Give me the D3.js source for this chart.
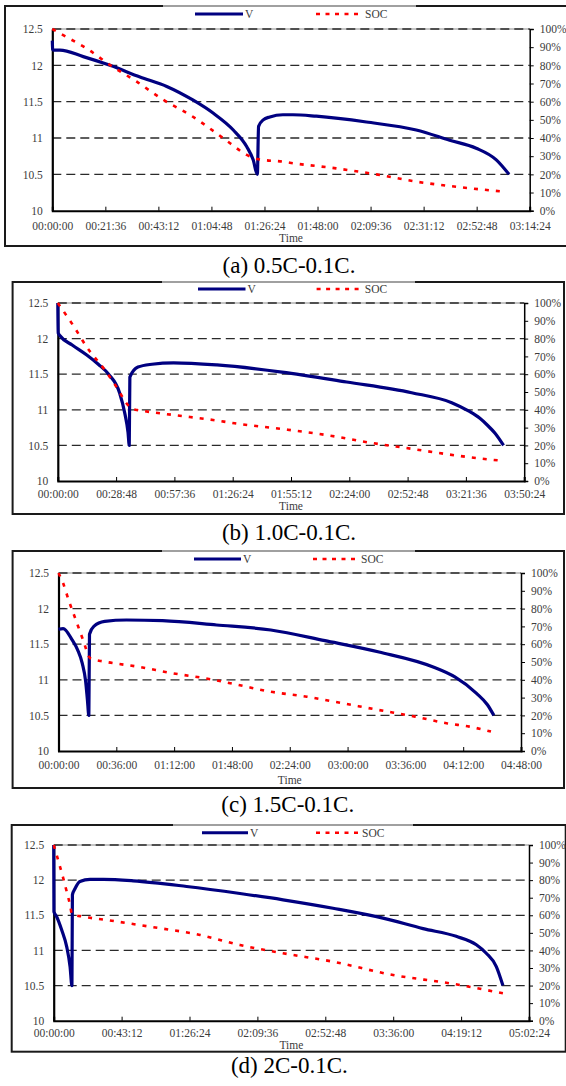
<!DOCTYPE html>
<html>
<head>
<meta charset="utf-8">
<script src="https://cdn.jsdelivr.net/npm/d3@7"></script>
<style>
  body { margin: 0; background: #fff; }
  svg { display: block; font-family: "Liberation Serif", serif; }
</style>
</head>
<body>
<svg id="chart" width="566" height="1086"></svg>
<script>
/* data, time in minutes */
var voltTicks = [10, 10.5, 11, 11.5, 12, 12.5];
var socTicks = [0, 10, 20, 30, 40, 50, 60, 70, 80, 90, 100];

// (a) 0.5C-0.1C
var ticksA = ["00:00:00","00:21:36","00:43:12","01:04:48","01:26:24","01:48:00","02:09:36","02:31:12","02:52:48","03:14:24"];
var timeA = [0, 0.15, 0.4, 3.1, 12.6, 23.5, 35.7, 46.6, 57.4, 65.6, 73.7, 79.2, 81.8, 83.5, 84.0, 85.9, 88.6, 93.9, 98.0, 107.5, 127.9, 148.2, 161.8, 172.6, 180.8, 186.0];
var voltA = [12.34, 12.22, 12.21, 12.21, 12.12, 12.0, 11.84, 11.71, 11.52, 11.34, 11.11, 10.88, 10.70, 10.5, 11.16, 11.25, 11.29, 11.32, 11.32, 11.30, 11.22, 11.11, 10.97, 10.86, 10.70, 10.5];
var timeSocA = [0, 3.1, 14.3, 23.5, 34.4, 45.2, 56.1, 66.9, 72.4, 79.2, 83.5, 85.9, 93.9, 96.7, 115.6, 131.9, 148.2, 164.5, 183.5];
var socA = [100, 97.6, 89, 80.2, 71, 61, 52.7, 42.6, 37.1, 30.7, 28.4, 27.9, 27, 26.4, 23.3, 20, 16, 13.2, 10.5];

// (b) 1.0C-0.1C
var ticksB = ["00:00:00","00:28:48","00:57:36","01:26:24","01:55:12","02:24:00","02:52:48","03:21:36","03:50:24"];
var timeB = [0, 0.2, 1.1, 7.1, 14.3, 20, 25.1, 30.5, 33.1, 34.7, 35.3, 35.6, 39.6, 46.5, 57.2, 78.6, 110.7, 142.7, 174.8, 194.6, 203.1, 208.5, 212, 216, 220.2];
var voltB = [12.5, 12.08, 12.04, 11.91, 11.77, 11.64, 11.50, 11.24, 10.95, 10.68, 10.5, 11.46, 11.60, 11.64, 11.66, 11.63, 11.53, 11.39, 11.24, 11.10, 10.98, 10.88, 10.79, 10.67, 10.5];
var timeSocB = [0, 8, 14.2, 23.2, 29.4, 33.9, 36.5, 39.2, 57, 76.7, 87.4, 112.3, 135.5, 153.3, 176.5, 192.6, 212.2, 219.3];
var socB = [100, 86.7, 75.4, 62.4, 52.1, 43.7, 40.5, 39.9, 37.1, 34.3, 32.4, 29, 25.3, 21.7, 17.8, 15, 12.2, 11.4];

// (c) 1.5C-0.1C
var ticksC = ["00:00:00","00:36:00","01:12:00","01:48:00","02:24:00","03:00:00","03:36:00","04:12:00","04:48:00"];
var timeC = [0, 2.9, 8.5, 11.9, 14.8, 16.9, 18.0, 18.9, 19.3, 22, 28.8, 42.3, 64.8, 98.4, 132.2, 165.9, 199.6, 233.3, 246.8, 260.3, 267.1, 271.1];
var voltC = [11.71, 11.72, 11.56, 11.42, 11.23, 10.98, 10.72, 10.5, 11.64, 11.75, 11.82, 11.84, 11.83, 11.77, 11.70, 11.55, 11.39, 11.18, 11.04, 10.81, 10.65, 10.5];
var timeSocC = [0, 2.9, 6.3, 10.8, 15.3, 19.8, 28.8, 49.1, 71.6, 91.8, 112, 132.2, 154.7, 177.1, 199.6, 222.1, 242.3, 255.8, 269.3];
var socC = [100, 94.2, 84.8, 73.6, 62.4, 52.1, 50.2, 47.4, 43.6, 40.8, 37.1, 33.3, 30.5, 26.8, 23, 19.3, 15.5, 13.7, 10.9];

// (d) 2C-0.1C
var ticksD = ["00:00:00","00:43:12","01:26:24","02:09:36","02:52:48","03:36:00","04:19:12","05:02:24"];
var timeD = [0, 0.15, 1.9, 5.1, 8.3, 10.4, 11.6, 11.9, 13.6, 16.7, 23.1, 31.6, 50.6, 84.6, 118.5, 145.9, 177.7, 209.5, 235, 256.1, 268.9, 275.2, 281.6, 285.8];
var voltD = [12.5, 11.55, 11.48, 11.29, 11.05, 10.77, 10.5, 11.79, 11.88, 11.98, 12.01, 12.01, 11.99, 11.91, 11.81, 11.72, 11.6, 11.46, 11.31, 11.2, 11.08, 10.96, 10.77, 10.5];
var timeSocD = [0, 1.9, 4.0, 6.1, 8.3, 10.4, 11.6, 18.8, 33.7, 61.3, 93.1, 118.5, 145.9, 177.7, 215.9, 251.9, 285.8];
var socD = [100, 94.3, 87.7, 81, 73.4, 65.9, 60.7, 59.2, 57.3, 53.5, 48.8, 43.1, 38.4, 33.6, 26, 21.3, 15.6];

/* layout of the four panels */
var panels = [
  {ticks: ticksA, t: timeA, v: voltA, ts: timeSocA, s: socA, caption: "(a) 0.5C-0.1C.",
   box: [5, 6, 575, 246], plot: [52.3, 29, 529.7, 210.7], leg: 14, legV: [195, 243], legS: [316, 363],
   tickY: 230, timeY: 242, capY: 272.5, gray: [163, 416]},
  {ticks: ticksB, t: timeB, v: voltB, ts: timeSocB, s: socB, caption: "(b) 1.0C-0.1C.",
   box: [12.6, 282, 564, 514], plot: [57.8, 303, 524.2, 481], leg: 289, legV: [198, 245.5], legS: [316.6, 362.8],
   tickY: 497.5, timeY: 510, capY: 540, gray: [162, 415]},
  {ticks: ticksC, t: timeC, v: voltC, ts: timeSocC, s: socC, caption: "(c) 1.5C-0.1C.",
   box: [12.6, 551, 564, 788], plot: [58.5, 573, 521, 751], leg: 559, legV: [194, 241], legS: [313, 359],
   tickY: 769, timeY: 784, capY: 811.5, gray: [162, 415]},
  {ticks: ticksD, t: timeD, v: voltD, ts: timeSocD, s: socD, caption: "(d) 2C-0.1C.",
   box: [11.7, 825, 565.7, 1051.7], plot: [53.7, 845, 529, 1020.7], leg: 832.7, legV: [202, 248], legS: [316, 360],
   tickY: 1037, timeY: 1049, capY: 1073, gray: [173, 413]}
];

var navy = "#000080";
var red = "#ff0000";
var textCol = "#3c3c3c";

function hms(s){
  var p = s.split(":").map(Number);
  return p[0] * 60 + p[1] + p[2] / 60;
}

var svg = d3.select("#chart");

function drawPanel(cfg){
  var g = svg.append("g");
  var l = cfg.plot[0], t = cfg.plot[1], r = cfg.plot[2], b = cfg.plot[3];
  var tickMins = cfg.ticks.map(hms);

  var x = d3.scaleLinear().domain([0, d3.max(tickMins)]).range([l, r]);
  var yV = d3.scaleLinear().domain([10, 12.5]).range([b, t]);
  var yS = d3.scaleLinear().domain([0, 100]).range([b, t]);

  // outer frame
  g.append("rect")
    .attr("x", cfg.box[0]).attr("y", cfg.box[1])
    .attr("width", cfg.box[2] - cfg.box[0]).attr("height", cfg.box[3] - cfg.box[1])
    .attr("fill", "none").attr("stroke", "#1a1a1a").attr("stroke-width", 2);
  g.append("line")
    .attr("x1", cfg.gray[0]).attr("x2", cfg.gray[1])
    .attr("y1", cfg.box[1]).attr("y2", cfg.box[1])
    .attr("stroke", "#a0a0a0").attr("stroke-width", 2);

  // plot top edge + dashed grid
  g.append("line")
    .attr("x1", l).attr("x2", r).attr("y1", t).attr("y2", t)
    .attr("stroke", "#8a8a8a").attr("stroke-width", 1);
  g.selectAll(".grid")
    .data(voltTicks.filter(d => d > 10))
    .join("line")
    .attr("x1", l).attr("x2", r)
    .attr("y1", d => yV(d)).attr("y2", d => yV(d))
    .attr("stroke", "#2a2a2a").attr("stroke-width", 1.3)
    .attr("stroke-dasharray", "9,5");

  // axes
  var ax = g.append("g").attr("transform", `translate(0,${b})`)
    .call(d3.axisBottom(x).tickValues(tickMins).tickSize(-4).tickFormat((d, i) => cfg.ticks[i]));
  ax.select(".domain").attr("stroke", "#000").attr("stroke-width", 2);
  ax.selectAll(".tick line").attr("stroke", "#000").attr("stroke-width", 1);
  ax.selectAll("text").attr("dy", null).attr("y", cfg.tickY - b)
    .style("font-size", "11.5px").style("font-family", "Liberation Serif").attr("fill", textCol);

  var ay = g.append("g").attr("transform", `translate(${l},0)`)
    .call(d3.axisLeft(yV).tickValues(voltTicks).tickSize(0).tickPadding(9.5).tickFormat(d3.format("")));
  ay.select(".domain").attr("stroke", "#000").attr("stroke-width", 2.2);
  ay.selectAll("text").style("font-size", "11.5px").style("font-family", "Liberation Serif").attr("fill", textCol);

  var as = g.append("g").attr("transform", `translate(${r},0)`)
    .call(d3.axisRight(yS).tickValues(socTicks).tickSize(4).tickPadding(6).tickFormat(d => d + "%"));
  as.select(".domain").attr("stroke", "#000").attr("stroke-width", 1.5);
  as.selectAll(".tick line").attr("stroke", "#000");
  as.selectAll("text").style("font-size", "11.5px").style("font-family", "Liberation Serif").attr("fill", textCol);

  // series
  var vData = cfg.t.map((d, i) => [d, cfg.v[i]]);
  var sData = cfg.ts.map((d, i) => [d, cfg.s[i]]);

  g.append("path")
    .datum(vData)
    .attr("d", d3.line().x(d => x(d[0])).y(d => yV(d[1])).curve(d3.curveMonotoneX))
    .attr("fill", "none").attr("stroke", navy).attr("stroke-width", 3.2)
    .attr("stroke-linejoin", "round");

  g.append("path")
    .datum(sData)
    .attr("d", d3.line().x(d => x(d[0])).y(d => yS(d[1])).curve(d3.curveMonotoneX))
    .attr("fill", "none").attr("stroke", red).attr("stroke-width", 2.6)
    .attr("stroke-dasharray", "4,7");

  // legend
  g.append("line")
    .attr("x1", cfg.legV[0]).attr("x2", cfg.legV[1]).attr("y1", cfg.leg).attr("y2", cfg.leg)
    .attr("stroke", navy).attr("stroke-width", 3);
  g.append("text")
    .attr("x", cfg.legV[1] + 2).attr("y", cfg.leg + 4)
    .style("font-size", "11.5px").attr("fill", textCol).text("V");
  g.append("line")
    .attr("x1", cfg.legS[0]).attr("x2", cfg.legS[1]).attr("y1", cfg.leg).attr("y2", cfg.leg)
    .attr("stroke", red).attr("stroke-width", 2.6).attr("stroke-dasharray", "4,5.5");
  g.append("text")
    .attr("x", cfg.legS[1] + 2).attr("y", cfg.leg + 4)
    .style("font-size", "11.5px").attr("fill", textCol).text("SOC");

  // axis title and caption
  g.append("text")
    .attr("x", (l + r) / 2).attr("y", cfg.timeY)
    .attr("text-anchor", "middle")
    .style("font-size", "11.5px").attr("fill", textCol).text("Time");

  g.append("text")
    .attr("x", (l + r) / 2 - 2).attr("y", cfg.capY)
    .attr("text-anchor", "middle")
    .style("font-size", "23px").attr("fill", "#000").text(cfg.caption);
}

panels.forEach(drawPanel);
</script>
</body>
</html>
